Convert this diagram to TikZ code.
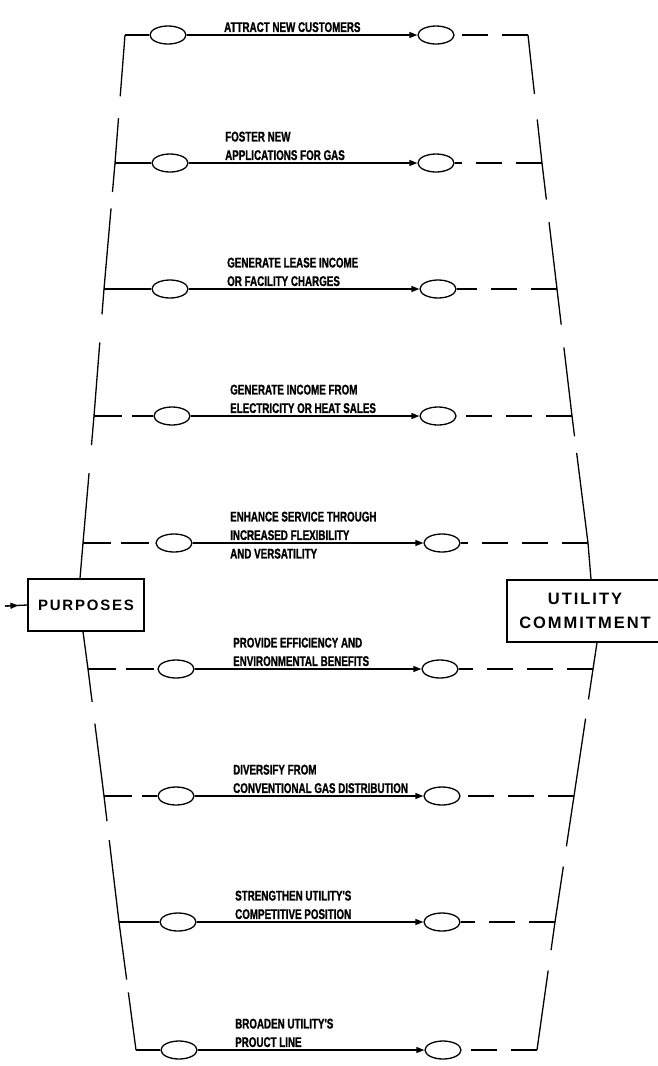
\documentclass[tikz,border=0pt]{standalone}
\usepackage{fontspec}
\newfontfamily\plotfont[FakeStretch=0.7, FakeBold=1.2]{Liberation Sans}
\newfontfamily\boxfont[LetterSpace=12]{Liberation Sans}
\usetikzlibrary{arrows.meta,calc,shapes.geometric,positioning}

\begin{document}
\begin{tikzpicture}[x=1pt, y=-1pt,
  line/.style={line width=1.3pt, black},
  bracket/.style={line width=1.3pt, black},
  ldash/.style={line, dash pattern=on 28pt off 10pt},
  rdash/.style={line, dash pattern=on 26pt off 14pt},
  oval/.style={ellipse, draw, line width=1.3pt, minimum width=36pt, minimum height=18pt, inner sep=0pt},
  arrow/.style={line, -{Triangle[length=8pt, width=6pt]}},
  goal/.style={font=\plotfont\bfseries\fontsize{14}{18.5}\selectfont, align=left, inner sep=0pt, anchor=north west},
  bigbox/.style={draw, line width=1.3pt, align=center, inner sep=0pt}]
  % picture frame (reference is 657 x 1066)
  \useasboundingbox (0,0) rectangle (657,1066);

  % the two boxes
  \node[bigbox, minimum width=116pt, minimum height=52pt,
        font=\boxfont\bfseries\fontsize{15}{24}\selectfont] (purposes) at (86,605) {PURPOSES};
  \node[bigbox, minimum width=156pt, minimum height=62pt,
        font=\boxfont\bfseries\fontsize{16.5}{24}\selectfont] (commit) at (585,611) {UTILITY\\COMMITMENT};

  % where the brackets meet the boxes
  \coordinate (ptop) at ($(purposes.north)+(-6,0)$);
  \coordinate (pbot) at ($(purposes.south)+(-3,0)$);
  \coordinate (utop) at ($(commit.north)+(6,0)$);
  \coordinate (ubot) at ($(commit.south)+(12,0)$);

  % feed into PURPOSES
  \coordinate (feed) at (5,606);
  \draw[line] (feed) -- (purposes.west);
  \draw[arrow] (feed) -- ($(feed)!0.6!(purposes.west)$);

  % one row per purpose: y, left/right bracket x, oval x's, text x, dashed left?, lines above
  \foreach \i/\y/\lx/\rx/\ex/\fx/\tx/\ld/\na/\txt in {
    1/35/125/528/168/436/224/0/1/{ATTRACT NEW CUSTOMERS},
    2/163/115/542/170/436/225/0/2/{FOSTER NEW\\APPLICATIONS FOR GAS},
    3/289/104/557/170/438/227/0/2/{GENERATE LEASE INCOME\\OR FACILITY CHARGES},
    4/416/94/572/172/438/230/1/2/{GENERATE INCOME FROM\\ELECTRICITY OR HEAT SALES},
    5/543/83/588/174/442/230/1/2/{ENHANCE SERVICE THROUGH\\INCREASED FLEXIBILITY\\AND VERSATILITY},
    6/669/88/593/176/440/233/1/2/{PROVIDE EFFICIENCY AND\\ENVIRONMENTAL BENEFITS},
    7/796/104/574/176/442/233/1/2/{DIVERSIFY FROM\\CONVENTIONAL GAS DISTRIBUTION},
    8/922/119/555/178/442/235/0/2/{STRENGTHEN UTILITY'S\\COMPETITIVE POSITION},
    9/1050/136/537/179/443/235/0/2/{BROADEN UTILITY'S\\PROUCT LINE}} {
    \coordinate (lb\i) at (\lx,\y);
    \coordinate (rb\i) at (\rx,\y);
    \node[oval] (le\i) at (\ex,\y) {};
    \node[oval] (re\i) at (\fx,\y) {};
    \pgfmathsetmacro{\ty}{\y-13-18.5*(\na-1)}
    \node[goal] (t\i) at (\tx,\ty) {\txt};
    \draw[arrow] (le\i) -- (re\i);
    \ifnum\ld=1 \draw[ldash] (lb\i) -- (le\i); \else \draw[line] (lb\i) -- (le\i); \fi
    \draw[rdash] (rb\i) -- (re\i);
  }

  % broken side brackets (gap between the two fractions)
  \foreach \p/\q/\a/\b in {lb1/lb2/0.48/0.65, lb2/lb3/0.23/0.36, lb3/lb4/0.2/0.42,
      lb4/lb5/0.23/0.45, lb5/ptop/1/1, pbot/lb6/1/1, lb6/lb7/0.26/0.43,
      lb7/lb8/0.2/0.35, lb8/lb9/0.45/0.55,
      rb1/rb2/0.46/0.66, rb2/rb3/0.29/0.47, rb3/rb4/0.28/0.46, rb4/rb5/0.16/0.29,
      rb5/utop/1/1, ubot/rb6/1/1, rb6/rb7/0.24/0.39, rb7/rb8/0.4/0.56,
      rb8/rb9/0.22/0.38} {
    \draw[bracket] (\p) -- ($(\p)!\a!(\q)$) ($(\p)!\b!(\q)$) -- (\q);
  }
\end{tikzpicture}
\end{document}
